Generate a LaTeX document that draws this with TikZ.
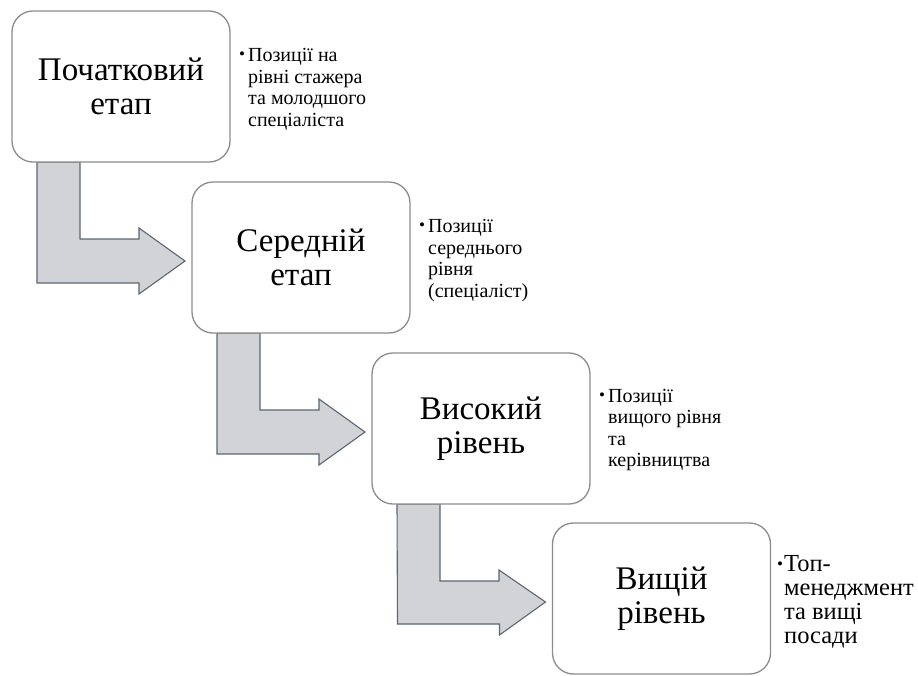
\documentclass[tikz,border=0pt]{standalone}
\usepackage{fontspec}
\setmainfont{Liberation Serif}
\usetikzlibrary{calc,backgrounds}

\definecolor{boxline}{HTML}{8C8C8C}
\definecolor{arrowfill}{HTML}{D1D3D7}
\definecolor{arrowline}{HTML}{5B6675}

\tikzset{
    stagebox/.style={draw=boxline, line width=1.3pt, fill=white, rounded corners=21pt,
        minimum width=218pt, minimum height=151pt, inner sep=0pt, outer sep=0pt,
        align=center, font=\fontsize{33}{34}\selectfont},
    notetext/.style={anchor=west, inner sep=0pt, font=\fontsize{20}{21.5}\selectfont},
    bentarrow/.style={draw=arrowline, fill=arrowfill, line width=1.1pt, line join=miter},
}
\newcommand{\dotitem}{\raisebox{2pt}{\fontsize{17}{17}\selectfont\textbullet}}

\begin{document}
\begin{tikzpicture}[x=1pt, y=-1pt]
    \useasboundingbox (0, 0) rectangle (918, 675);
        \node[stagebox] (stage1) at (121, 86.5) {Початковий\\етап};
        \node[stagebox] (stage2) at (301, 257.5) {Середній\\етап};
        \node[stagebox] (stage3) at (481, 428.5) {Високий\\рівень};
        \node[stagebox] (stage4) at (661.5, 598.5) {Вищій\\рівень};
        \node[notetext] (note1) at ($(stage1.east) + (9, 3)$)
            {\begin{tabular}{@{}l@{\hspace{3pt}}l@{}}\dotitem & Позиції на\\ & рівні стажера\\ & та молодшого\\ & спеціаліста\end{tabular}};
        \node[notetext] (note2) at ($(stage2.east) + (9, 3)$)
            {\begin{tabular}{@{}l@{\hspace{3pt}}l@{}}\dotitem & Позиції\\ & середнього\\ & рівня\\ & (спеціаліст)\end{tabular}};
        \node[notetext] (note3) at ($(stage3.east) + (9, 1.5)$)
            {\begin{tabular}{@{}l@{\hspace{3pt}}l@{}}\dotitem & Позиції\\ & вищого рівня\\ & та\\ & керівництва\end{tabular}};
        \node[notetext, font=\fontsize{24.5}{24}\selectfont] (note4) at ($(stage4.east) + (6.5, 4)$)
            {\begin{tabular}{@{}l@{\hspace{1pt}}l@{}}\dotitem & Топ-\\ & менеджмент\\ & та вищі\\ & посади\end{tabular}};
    \begin{pgfonlayer}{background}
        \foreach \a/\b in {stage1/stage2, stage2/stage3, stage3/stage4}
            \draw[bentarrow] ($(\a.south west) + (25, 0)$) -- ++(43, 0) -- ++(0, 77) -- ++(59, 0) -- ++(0, -11)
                -- ($(\b.west) + (-7, 3.5)$) -- ++(-46, 33) -- ++(0, -11) -- ++(-102, 0) -- cycle;
    \end{pgfonlayer}
\end{tikzpicture}
\end{document}
